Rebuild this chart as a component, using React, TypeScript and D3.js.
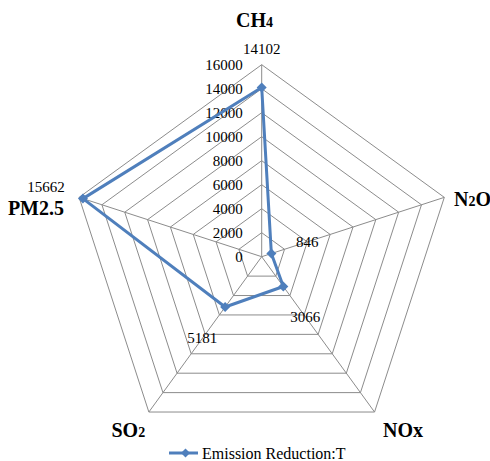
import React from "react";
import * as d3 from "d3";

const categories = ["CH4", "N2O", "NOx", "SO2", "PM2.5"];
const catMain = ["CH", "N", "NOx", "SO", "PM2.5"];
const catSub = ["4", "2", "", "2", ""];
const catTail = ["", "O", "", "", ""];
const values = [14102, 846, 3066, 5181, 15662];
const ticks = [0, 2000, 4000, 6000, 8000, 10000, 12000, 14000, 16000];
const seriesName = "Emission Reduction:T";

const W = 490, H = 461;
const cx = 261.7, cy = 256.7, R = 192;
const blue = "#4F7FBC";
const grid = "#8C8C8C";

// label offsets (layout)
const valueLabelOffsets: [number, number][] = [
  [0, -38.5], [36, -11.6], [22, 30.5], [-23, 31], [-37, -12],
];
const catLabelPos: { x: number; y: number; anchor: string }[] = [
  { x: 236, y: 20, anchor: "start" },
  { x: 454, y: 199, anchor: "start" },
  { x: 383, y: 430, anchor: "start" },
  { x: 111.5, y: 430, anchor: "start" },
  { x: 64, y: 208, anchor: "end" },
];

export default function App() {
  const r = d3.scaleLinear().domain([0, 16000]).range([0, R]);
  const n = categories.length;
  const ang = (i: number) => (i * 2 * Math.PI) / n;
  const pt = (i: number, v: number): [number, number] => [
    cx + r(v) * Math.sin(ang(i)),
    cy - r(v) * Math.cos(ang(i)),
  ];
  const ring = (v: number) =>
    d3.line()(d3.range(n + 1).map((i) => pt(i % n, v))) as string;
  const dataPts = values.map((v, i) => pt(i, v));
  const dataPath = d3.line()([...dataPts, dataPts[0]]) as string;
  const diamond = (s: number) => `M0,${-s}L${s},0L0,${s}L${-s},0Z`;

  return (
    <svg width={W} height={H} style={{ position: "absolute", left: 0, top: 0, background: "#fff" }}
      fontFamily="'Liberation Serif', 'Times New Roman', serif">
      <rect width={W} height={H} fill="#fff" />
      {ticks.slice(1).map((t) => (
        <path key={t} d={ring(t)} fill="none" stroke={grid} strokeWidth={1} />
      ))}
      {categories.map((c, i) => {
        const [x, y] = pt(i, 16000);
        return <line key={c} x1={cx} y1={cy} x2={x} y2={y} stroke={grid} strokeWidth={1} />;
      })}
      {ticks.map((t) => (
        <text key={t} x={cx - 19} y={cy - r(t)} dy="0.35em" textAnchor="end" fontSize={15} fill="#000">
          {t}
        </text>
      ))}
      <path d={dataPath} fill="none" stroke={blue} strokeWidth={3} strokeLinejoin="round" />
      {dataPts.map(([x, y], i) => (
        <path key={i} d={diamond(5)} transform={`translate(${x},${y})`} fill={blue} />
      ))}
      {dataPts.map(([x, y], i) => (
        <text key={i} x={x + valueLabelOffsets[i][0]} y={y + valueLabelOffsets[i][1]} dy="0.35em"
          textAnchor="middle" fontSize={15} fill="#000">
          {values[i]}
        </text>
      ))}
      {categories.map((c, i) => (
        <text key={c} x={catLabelPos[i].x} y={catLabelPos[i].y} dy="0.35em" textAnchor={catLabelPos[i].anchor as any}
          fontSize={20} fontWeight="bold" fill="#000">
          {catMain[i]}
          {catSub[i] && <tspan fontSize={14}>{catSub[i]}</tspan>}
          {catTail[i] && <tspan fontSize={20}>{catTail[i]}</tspan>}
        </text>
      ))}
      <line x1={169} x2={198} y1={453} y2={453} stroke={blue} strokeWidth={3} />
      <path d={diamond(4.5)} transform="translate(185.5,453)" fill={blue} />
      <text x={202} y={453} dy="0.35em" fontSize={16} fill="#000">{seriesName}</text>
    </svg>
  );
}
